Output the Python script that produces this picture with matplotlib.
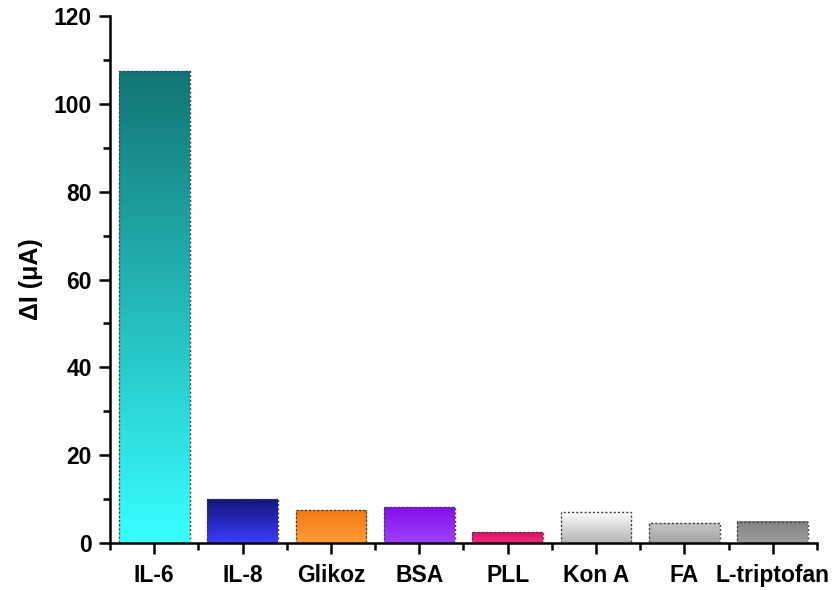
import numpy as np
import matplotlib
matplotlib.use('Agg')
import matplotlib.pyplot as plt
from matplotlib.colors import LinearSegmentedColormap
from matplotlib.patches import Rectangle
from matplotlib.ticker import MultipleLocator, FixedLocator

plt.rcParams['font.family'] = ['Liberation Sans', 'DejaVu Sans']
plt.rcParams['font.weight'] = 'bold'

# samples and their current change (uA)
samples = ['IL-6', 'IL-8', 'Glikoz', 'BSA', 'PLL', 'Kon A', 'FA', 'L-triptofan']
delta_i = [107.6, 9.9, 7.5, 8.1, 2.5, 7.1, 4.4, 4.8]
# gradient colours per bar: (top, bottom)
grad_top = ['#127575', '#141478', '#f57a12', '#8410e8', '#d81468', '#ffffff', '#c4c4c4', '#858585']
grad_bottom = ['#38ffff', '#3c3cff', '#ff9e3a', '#a040ff', '#f02a7e', '#b4b4b4', '#a4a4a4', '#9c9c9c']

fig = plt.figure(figsize=(8.37, 5.90), dpi=100)
ax = fig.add_axes([0.1314, 0.0802, 0.8446, 0.892])

x = np.arange(1, len(samples) + 1)
width = 0.8
grad = np.linspace(0, 1, 256).reshape(-1, 1)
for xi, h, ct, cb in zip(x, delta_i, grad_top, grad_bottom):
    cmap = LinearSegmentedColormap.from_list('bar', [cb, ct])
    ax.imshow(grad, cmap=cmap, origin='lower', aspect='auto',
              extent=[xi - width / 2, xi + width / 2, 0, h], zorder=2)
    ax.add_patch(Rectangle((xi - width / 2, 0), width, h, fill=False,
                           edgecolor='#404040', linewidth=1.0,
                           linestyle=(0, (1.5, 1.5)), zorder=3))

ax.set_xlim(0.5, 8.5)
ax.set_ylim(0, 120)

ax.spines['top'].set_visible(False)
ax.spines['right'].set_visible(False)
ax.spines['left'].set_linewidth(1.8)
ax.spines['bottom'].set_linewidth(1.8)

ax.set_xticks(x)
ax.set_xticklabels(samples)
ax.xaxis.set_minor_locator(FixedLocator(np.arange(0.5, 9.0, 1.0)))
ax.yaxis.set_major_locator(MultipleLocator(20))
ax.yaxis.set_minor_locator(MultipleLocator(10))

ax.tick_params(axis='both', which='major', direction='out', length=8,
               width=1.8, labelsize=16.5, pad=5)
ax.tick_params(axis='both', which='minor', direction='out', length=5, width=1.8)
ax.tick_params(axis='x', which='major', pad=7)
for lbl in ax.get_xticklabels() + ax.get_yticklabels():
    lbl.set_fontweight('bold')

ax.set_ylabel('ΔI (μA)', fontsize=18, fontweight='bold', labelpad=8)

fig.savefig('out.png', dpi=100)
